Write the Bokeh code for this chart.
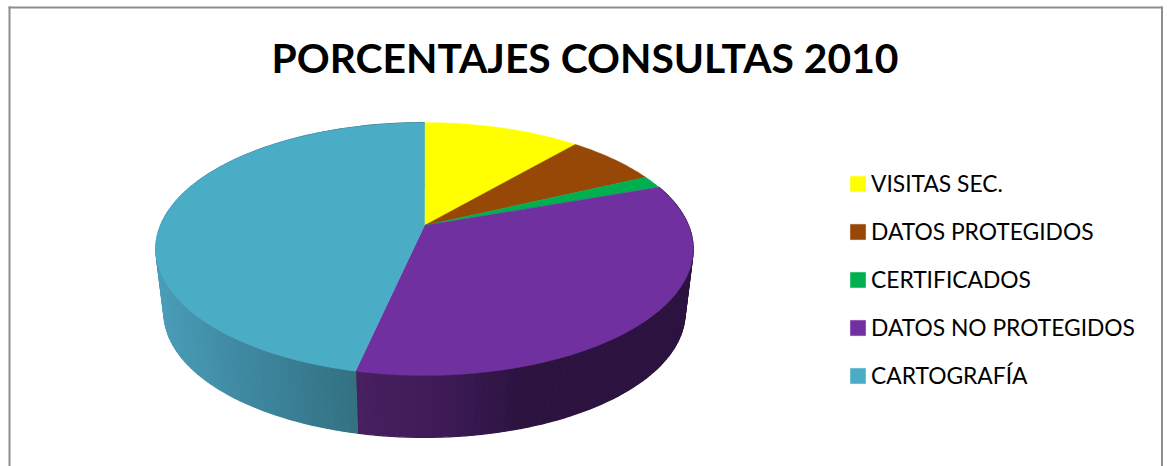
import numpy as np
from bokeh.embed import file_html
from bokeh.resources import INLINE
from bokeh.plotting import figure
from bokeh.models import Legend, LegendItem, Label

title_text = "PORCENTAJES CONSULTAS 2010"
categories = ["VISITAS SEC.", "DATOS PROTEGIDOS", "CERTIFICADOS", "DATOS NO PROTEGIDOS", "CARTOGRAFÍA"]
percentages = [11.3, 6.7, 1.6, 33.83, 46.57]
colors = ["#FFFF00", "#974806", "#00B050", "#7030A0", "#4BACC6"]

W, H = 1168, 466
OX, OY = 0, 0
FONT = "Lato"

# 3D pie projection (conic of a tilted disc, in page pixels)
X0, Y0 = 424.0, 225.0
K, A, B = 0.186, 122.0, 264.0
BOTTOM_SCALE_X, BOTTOM_SCALE_Y = 0.970, 0.988
RIM_CY, BOTTOM_CY = 248.5, 312.0

def top_rim(theta):
    u, v = np.sin(theta), np.cos(theta)
    d = 1 + K * v
    return X0 + B * u / d, Y0 - A * v / d

def bottom_rim(theta):
    x, y = top_rim(theta)
    return X0 + (x - X0) * BOTTOM_SCALE_X, BOTTOM_CY + (y - RIM_CY) * BOTTOM_SCALE_Y

side_stops = {
    3: ([357, 450, 520, 700], ["#47205F", "#3C1A55", "#2C1340", "#2C1340"]),
    4: ([150, 230, 300, 357], ["#4B9EB9", "#408BA3", "#387C92", "#33717F"]),
}

def hex_rgb(c):
    return np.array([int(c[i:i + 2], 16) for i in (1, 3, 5)], dtype=float)

def side_color(idx, x):
    xs, cs = side_stops[idx]
    rgb = np.array([hex_rgb(c) for c in cs])
    vals = [int(round(np.interp(x, xs, rgb[:, j]))) for j in range(3)]
    return "#%02x%02x%02x" % tuple(vals)

p = figure(width=W, height=H, x_range=(OX, OX + W), y_range=(OY + H, OY),
           output_backend="svg", toolbar_location=None, tools="",
           min_border=0,
           x_axis_type=None, y_axis_type=None, outline_line_color=None,
           background_fill_color="white", border_fill_color="white")
p.grid.visible = False

# frame of the picture
FRAME = "#8E8E8E"
p.line([9, 9], [6, OY + H], line_color=FRAME, line_width=2)
p.line([8, 1162], [7, 7], line_color=FRAME, line_width=2)
p.line([1161.5, 1161.5], [6, OY + H], line_color=FRAME, line_width=2)

edges = np.concatenate([[0], np.cumsum(percentages)]) / np.sum(percentages) * 2 * np.pi

# side walls
for idx in side_stops:
    ths = np.arange(edges[idx], edges[idx + 1], np.radians(1.5))
    ths = np.append(ths, edges[idx + 1])
    xs, ys, cs = [], [], []
    for a, b in zip(ths[:-1], ths[1:]):
        x1, y1 = top_rim(a); x2, y2 = top_rim(b)
        x3, y3 = bottom_rim(b); x4, y4 = bottom_rim(a)
        xs.append([x1, x2, x3, x4]); ys.append([y1, y2, y3, y4])
        cs.append(side_color(idx, (x1 + x2) / 2))
    p.patches(xs, ys, fill_color=cs, line_color=cs, line_width=1.2)

# top face
items = []
for i, name in enumerate(categories):
    n = max(8, int(np.degrees(edges[i + 1] - edges[i])))
    th = np.linspace(edges[i], edges[i + 1], n)
    x, y = top_rim(th)
    r = p.patch(np.r_[X0, x], np.r_[Y0, y], fill_color=colors[i], line_color=colors[i], line_width=0.5)
    items.append(LegendItem(label=name, renderers=[r]))

legend = Legend(items=items, location=(848, 77), orientation="vertical",
                glyph_width=19, glyph_height=19, label_height=15, label_standoff=4,
                spacing=20, padding=0, margin=0, border_line_color=None,
                background_fill_alpha=0, label_text_font=FONT,
                label_text_font_size="22.8px", label_text_color="#000000")
p.add_layout(legend, "center")

p.add_layout(Label(x=584.5, y=57, x_units="data", y_units="data", text=title_text,
                   text_font=FONT, text_font_style="bold", text_font_size="40.8px",
                   text_align="center", text_baseline="alphabetic", text_color="#000000"))

html = file_html(p, INLINE).replace("<body>", '<body style="margin:0">')
open("out.html", "w").write(html)
